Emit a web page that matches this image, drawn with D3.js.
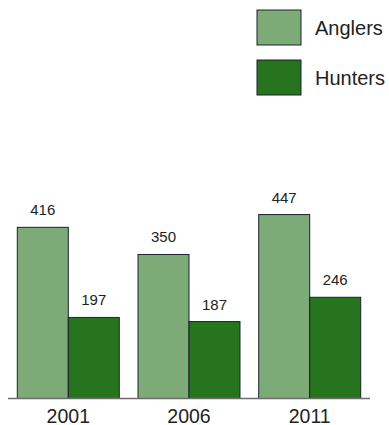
<!DOCTYPE html>
<html>
<head>
<meta charset="utf-8">
<script src="https://cdn.jsdelivr.net/npm/d3@7"></script>
<style>
  html, body { margin: 0; padding: 0; background: #fff; }
  svg { display: block; font-family: "Liberation Sans", Arial, Helvetica, sans-serif; }
</style>
</head>
<body>
<svg id="chart" width="389" height="425"></svg>
<script>
// Participants (thousands) by survey year
const years = ["2001", "2006", "2011"];
const seriesNames = ["Anglers", "Hunters"];
const anglers = [416, 350, 447];
const hunters = [197, 187, 246];
const colors = ["#7dab77", "#27741f"];

const svg = d3.select("#chart");
const baseY = 398.5;

const x0 = d3.scaleBand()
  .domain(years)
  .range([17.3, 360.7])
  .paddingInner(0.155)
  .paddingOuter(0);

const x1 = d3.scaleBand()
  .domain(seriesNames)
  .range([0, x0.bandwidth()])
  .padding(0);

const y = d3.scaleLinear()
  .domain([0, 447])
  .range([baseY, baseY - 447 * 0.4115]);

const color = d3.scaleOrdinal().domain(seriesNames).range(colors);

const rows = years.map((yr, i) => ({
  year: yr,
  values: [
    { key: "Anglers", value: anglers[i] },
    { key: "Hunters", value: hunters[i] }
  ]
}));

const groups = svg.append("g").selectAll("g")
  .data(rows)
  .join("g")
  .attr("transform", d => `translate(${x0(d.year)},0)`);

groups.selectAll("rect")
  .data(d => d.values)
  .join("rect")
  .attr("x", d => x1(d.key))
  .attr("y", d => y(d.value))
  .attr("width", x1.bandwidth())
  .attr("height", d => baseY - y(d.value))
  .attr("fill", d => color(d.key))
  .attr("stroke", "#1b2230")
  .attr("stroke-width", 1);

groups.selectAll("text.value")
  .data(d => d.values)
  .join("text")
  .attr("class", "value")
  .attr("x", d => x1(d.key) + x1.bandwidth() / 2)
  .attr("y", d => y(d.value) - 12)
  .attr("text-anchor", "middle")
  .attr("font-size", 15)
  .attr("fill", "#222")
  .text(d => d.value);

// Baseline
svg.append("line")
  .attr("x1", 8).attr("x2", 370)
  .attr("y1", baseY).attr("y2", baseY)
  .attr("stroke", "#6d6d6d")
  .attr("stroke-width", 1.5);

// Year labels
const xAxis = d3.axisBottom(x0).tickSize(0).tickPadding(0);
const axisG = svg.append("g")
  .attr("transform", `translate(0,${baseY})`)
  .call(xAxis);
axisG.select(".domain").remove();
axisG.selectAll("text")
  .attr("y", 24)
  .attr("dy", 0)
  .attr("font-size", 19.5)
  .attr("font-family", "\"Liberation Sans\", Arial, sans-serif")
  .attr("fill", "#222");

// Legend
const legend = svg.append("g").selectAll("g")
  .data(seriesNames)
  .join("g")
  .attr("transform", (d, i) => `translate(257,${10 + i * 50})`);

legend.append("rect")
  .attr("width", 44)
  .attr("height", 35)
  .attr("fill", d => color(d))
  .attr("stroke", "#1b2230")
  .attr("stroke-width", 1);

legend.append("text")
  .attr("x", 58)
  .attr("y", 17.5)
  .attr("dy", "0.35em")
  .attr("font-size", 20)
  .attr("fill", "#222")
  .text(d => d);
</script>
</body>
</html>
